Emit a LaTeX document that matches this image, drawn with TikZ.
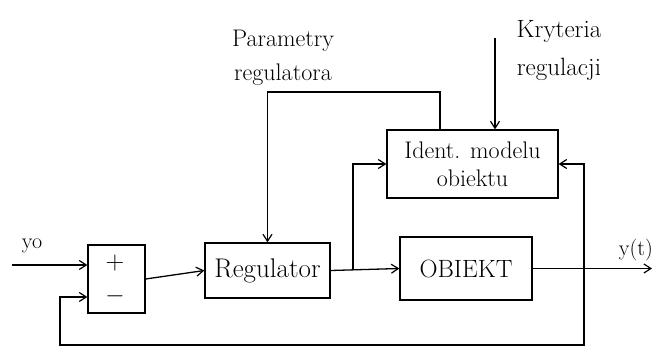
\documentclass[tikz,border=0pt]{standalone}
\usepackage{fontspec}
\usetikzlibrary{arrows.meta,calc}
\newcommand{\txtbig}{\fontsize{24}{34}\selectfont}
\newcommand{\txtmid}{\fontsize{22}{24}\selectfont}
\begin{document}
\begin{tikzpicture}[x=1pt,y=-1pt,
  blk/.style={draw, line width=1.3pt, inner sep=0pt, align=center},
  wire/.style={line width=1.3pt},
  arr/.style={wire, -{Straight Barb[length=7pt,width=9pt,line width=1.2pt]}},
  lbl/.style={inner sep=0pt, align=center}]
\useasboundingbox (0,0) rectangle (667,356);
% blocks
\node[blk, minimum width=57pt, minimum height=68pt] (sum) at (116.5,279) {};
\node[lbl, font=\fontsize{26}{28}\selectfont] (plus) at (115,263) {+};
\node[lbl, font=\fontsize{26}{28}\selectfont] (minus) at (115,296) {$-$};
\node[blk, minimum width=125pt, minimum height=55pt, font=\fontsize{27}{30}\selectfont] (reg) at (267.5,270.5) {Regulator};
\node[blk, minimum width=132pt, minimum height=63pt, font=\fontsize{25}{28}\selectfont] (obj) at (466,268.5) {OBIEKT};
\node[blk, minimum width=171pt, minimum height=68pt, font=\fontsize{24}{28}\selectfont] (ident) at (472.5,164) {Ident. modelu\\obiektu};
% labels
\node[lbl, font=\txtmid] (yo) at (32,246) {yo};
\node[lbl, font=\txtmid] (yt) at (636,250) {y(t)};
\node[lbl, font=\txtbig] (par) at (283,58) {Parametry\\regulatora};
\node[lbl, font=\fontsize{25}{38}\selectfont] (kry) at (559,51) {Kryteria\\regulacji};
% coordinates
\coordinate (yin) at (12,265);
\coordinate (yout) at (652,268.5);
\coordinate (fb) at (584,268.5);
\coordinate (fbl) at (60,345);
\coordinate (br) at (353,270);
\coordinate (kr) at (495,38);
\coordinate (pt) at (440,92);
% connectors
\draw[arr] (yin) -- (yin -| sum.west);
\draw[arr] (sum.east) -- (reg.west);
\draw[arr] (reg.east) -- (obj.west);
\draw[arr] (obj.east) -- (yout);
\draw[arr] (fb) |- (fbl) |- ($(sum.west)+(0,18)$);
\draw[arr] (br) |- (ident.west);
\draw[arr] (fb) |- (ident.east);
\draw[arr] (kr) -- (kr |- ident.north);
\draw[arr] (pt |- ident.north) -- (pt) -- (pt -| reg.north) -- (reg.north);
\end{tikzpicture}
\end{document}
